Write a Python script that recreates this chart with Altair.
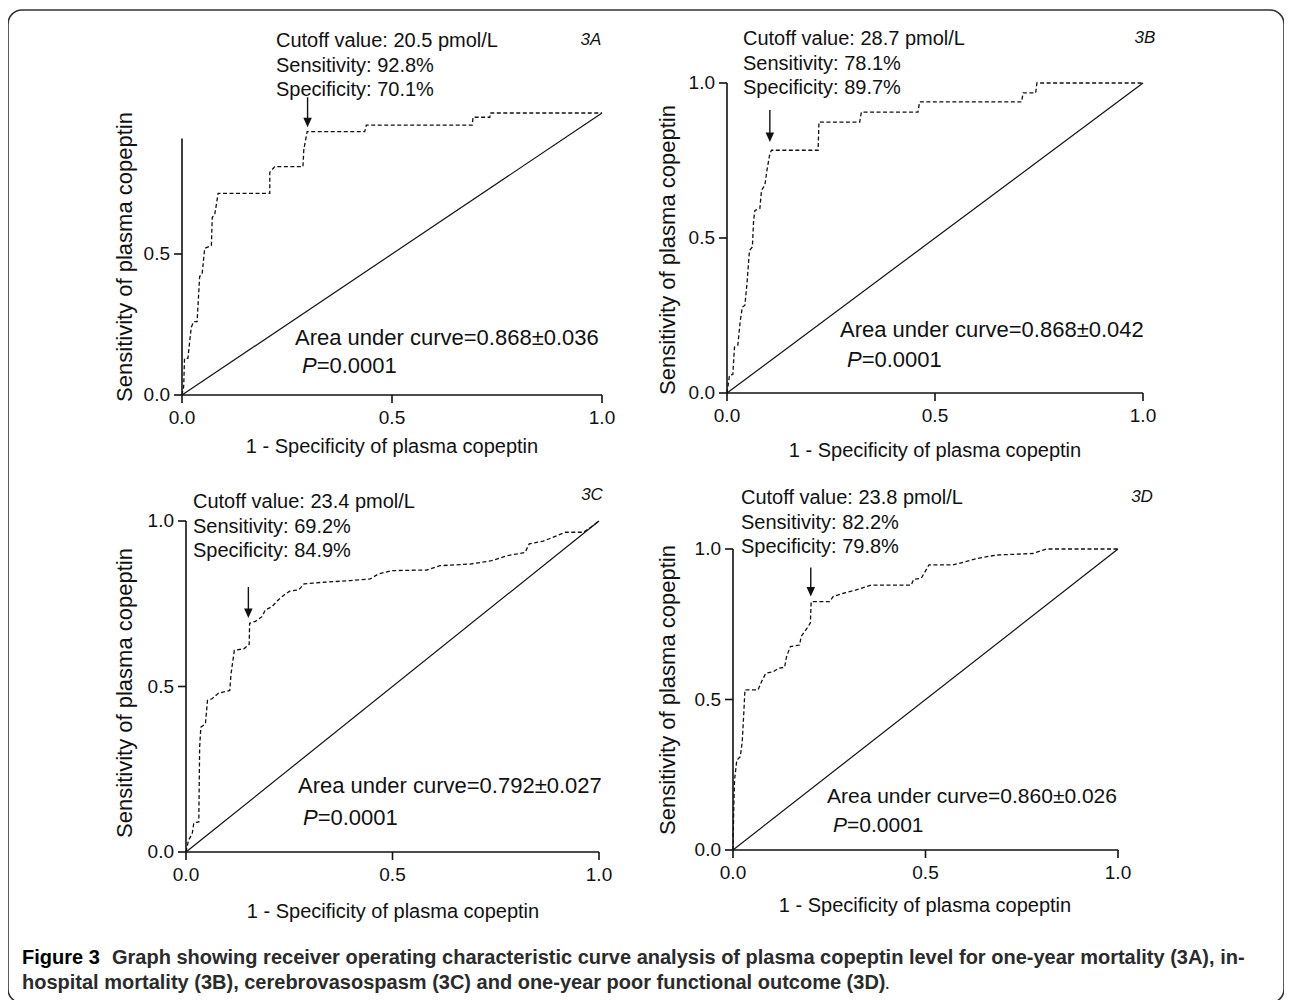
import altair as alt
import pandas as pd

# ---------------- data ----------------
panel_keys = ["A", "B", "C", "D"]
panel_tags = ["3A", "3B", "3C", "3D"]

fpr_a = [0, 0.004, 0.006, 0.014, 0.022, 0.028, 0.036, 0.042, 0.048, 0.054, 0.070, 0.072, 0.078, 0.086,
         0.209, 0.209, 0.221, 0.288, 0.290, 0.298, 0.435, 0.439, 0.691, 0.693, 0.733, 0.734, 1.0]
tpr_a = [0, 0.03, 0.13, 0.13, 0.24, 0.26, 0.26, 0.42, 0.43, 0.52, 0.53, 0.63, 0.64, 0.715,
         0.715, 0.79, 0.81, 0.81, 0.87, 0.934, 0.934, 0.957, 0.957, 0.985, 0.985, 1.0, 1.0]

fpr_b = [0, 0.006, 0.014, 0.018, 0.026, 0.032, 0.037, 0.043, 0.048, 0.054, 0.061, 0.064, 0.067, 0.079,
         0.083, 0.091, 0.096, 0.103, 0.107, 0.219, 0.221, 0.319, 0.323, 0.459, 0.463, 0.708, 0.712,
         0.742, 0.745, 1.0]
tpr_b = [0, 0.057, 0.06, 0.148, 0.154, 0.234, 0.277, 0.283, 0.353, 0.46, 0.471, 0.557, 0.589, 0.595,
         0.654, 0.67, 0.718, 0.772, 0.783, 0.783, 0.874, 0.874, 0.906, 0.906, 0.939, 0.939, 0.968,
         0.968, 1.0, 1.0]

fpr_c = [0, 0.006, 0.015, 0.019, 0.031, 0.033, 0.036, 0.047, 0.052, 0.063, 0.079, 0.106, 0.109, 0.117,
         0.14, 0.153, 0.154, 0.168, 0.184, 0.192, 0.208, 0.222, 0.236, 0.251, 0.273, 0.286, 0.333,
         0.398, 0.446, 0.466, 0.498, 0.583, 0.615, 0.688, 0.74, 0.777, 0.821, 0.831, 0.865, 0.918,
         0.962, 0.98, 1.0]
tpr_c = [0, 0.035, 0.055, 0.088, 0.091, 0.317, 0.377, 0.387, 0.458, 0.463, 0.48, 0.488, 0.538, 0.609,
         0.614, 0.627, 0.691, 0.697, 0.711, 0.731, 0.741, 0.76, 0.775, 0.788, 0.792, 0.81, 0.815,
         0.82, 0.825, 0.84, 0.85, 0.852, 0.865, 0.87, 0.88, 0.895, 0.905, 0.931, 0.939, 0.966,
         0.966, 0.981, 1.0]

fpr_d = [0, 0.002, 0.004, 0.010, 0.019, 0.024, 0.028, 0.031, 0.065, 0.074, 0.085, 0.104, 0.119, 0.134,
         0.139, 0.149, 0.173, 0.177, 0.195, 0.201, 0.203, 0.251, 0.26, 0.287, 0.32, 0.359, 0.463,
         0.469, 0.489, 0.509, 0.571, 0.604, 0.636, 0.684, 0.779, 0.814, 1.0]
tpr_d = [0, 0.144, 0.233, 0.299, 0.31, 0.36, 0.454, 0.532, 0.532, 0.559, 0.587, 0.592, 0.604, 0.607,
         0.642, 0.676, 0.681, 0.709, 0.742, 0.755, 0.825, 0.825, 0.842, 0.853, 0.864, 0.88, 0.88,
         0.899, 0.903, 0.947, 0.947, 0.958, 0.969, 0.98, 0.985, 1.0, 1.0]

fprs = [fpr_a, fpr_b, fpr_c, fpr_d]
tprs = [tpr_a, tpr_b, tpr_c, tpr_d]

reference_line = [0.0, 1.0]

cutoffs = ["20.5", "28.7", "23.4", "23.8"]
sensitivities = [92.8, 78.1, 69.2, 82.2]
specificities = [70.1, 89.7, 84.9, 79.8]
auc_values = ["0.868", "0.868", "0.792", "0.860"]
auc_errors = ["0.036", "0.042", "0.027", "0.026"]
p_values = ["0.0001", "0.0001", "0.0001", "0.0001"]

x_ticks = [0.0, 0.5, 1.0]
x_tick_labels = ["0.0", "0.5", "1.0"]
y_ticks = [[0.0, 0.5], [0.0, 0.5, 1.0], [0.0, 0.5, 1.0], [0.0, 0.5, 1.0]]
y_tick_labels = [["0.0", "0.5"], ["0.0", "0.5", "1.0"], ["0.0", "0.5", "1.0"], ["0.0", "0.5", "1.0"]]
y_axis_top = [0.91, 1.0, 1.0, 1.0]

x_title = "1 - Specificity of plasma copeptin"
y_title = "Sensitivity of plasma copeptin"

caption_bold = "Figure 3"
caption_line1 = ("Graph showing receiver operating characteristic curve analysis of plasma copeptin "
                 "level for one-year mortality (3A), in-")
caption_line2 = ("hospital mortality (3B), cerebrovasospasm (3C) and one-year poor functional "
                 "outcome (3D)")

# ---------------- layout (page pixels) ----------------
OX, OY = 8, 10          # page position of the framed view
W, H = 1276, 993
FONT = "Liberation Sans"
INK = "#111111"
TICK = 8

layout = {
    "A": dict(x0=182, x1=602, y0=395, y1=113, ann=(276, 47), tag=(591, 40),
              auc=(295, 345), p=(302, 373), auc_size=22, xt=(392, 447), yt=(125, 257),
              gap=6, alen=30),
    "B": dict(x0=727, x1=1143, y0=393, y1=83, ann=(743, 45), tag=(1145, 38),
              auc=(840, 337), p=(847, 367), auc_size=22, xt=(935, 451), yt=(668, 250),
              gap=9, alen=32),
    "C": dict(x0=186, x1=599, y0=852, y1=521, ann=(193, 508), tag=(592, 495),
              auc=(298, 793), p=(303, 825), auc_size=22, xt=(393, 912), yt=(125, 693),
              gap=5, alen=31),
    "D": dict(x0=733, x1=1118, y0=850, y1=549, ann=(741, 504), tag=(1142, 497),
              auc=(827, 803), p=(833, 832), auc_size=21, xt=(925, 906), yt=(668, 690),
              gap=6, alen=29),
}


def px(x):
    return x - OX


def py(y):
    return y - OY


def text_layer(txt, x, y, size, **kw):
    df = pd.DataFrame({"t": [txt]})
    params = dict(font=FONT, fontSize=size, color=INK, align="left", baseline="alphabetic")
    params.update(kw)
    return alt.Chart(df).mark_text(**params).encode(
        x=alt.value(px(x)), y=alt.value(py(y)), text="t:N")


def build_panel(i):
    key = panel_keys[i]
    L = layout[key]
    xs = alt.Scale(domain=[0, 1], range=[px(L["x0"]), px(L["x1"])], nice=False, zero=False)
    ys = alt.Scale(domain=[0, 1], range=[py(L["y0"]), py(L["y1"])], nice=False, zero=False)

    def X(f):
        return alt.X(f, type="quantitative", scale=xs, axis=None)

    def Y(f):
        return alt.Y(f, type="quantitative", scale=ys, axis=None)

    curve_df = pd.DataFrame({"fpr": fprs[i], "tpr": tprs[i], "i": list(range(len(fprs[i])))})
    curve = alt.Chart(curve_df).mark_line(
        color=INK, strokeWidth=1.3, strokeDash=[4, 2.5]
    ).encode(x=X("fpr"), y=Y("tpr"), order="i:Q")

    diag_df = pd.DataFrame({"fpr": reference_line, "tpr": reference_line})
    diag = alt.Chart(diag_df).mark_line(color=INK, strokeWidth=1.2).encode(x=X("fpr"), y=Y("tpr"))

    ax_df = pd.DataFrame({"lo": [0.0], "hx": [1.0], "hy": [y_axis_top[i]]})
    xline = alt.Chart(ax_df).mark_rule(color=INK, strokeWidth=1.6).encode(
        x=X("lo"), x2=alt.X2("hx"), y=Y("lo"))
    yline = alt.Chart(ax_df).mark_rule(color=INK, strokeWidth=1.6).encode(
        x=X("lo"), y=Y("lo"), y2=alt.Y2("hy"))

    xt_df = pd.DataFrame({"v": x_ticks, "lab": x_tick_labels, "z": [0.0] * len(x_ticks)})
    xtk = alt.Chart(xt_df).mark_rule(color=INK, strokeWidth=1.6, y2Offset=TICK).encode(
        x=X("v"), y=Y("z"), y2=alt.Y2("z"))
    xlab = alt.Chart(xt_df).mark_text(
        font=FONT, fontSize=19, color=INK, align="center", baseline="middle", dy=23
    ).encode(x=X("v"), y=Y("z"), text="lab:N")

    yt_df = pd.DataFrame({"v": y_ticks[i], "lab": y_tick_labels[i], "z": [0.0] * len(y_ticks[i])})
    ytk = alt.Chart(yt_df).mark_rule(color=INK, strokeWidth=1.6, x2Offset=-TICK).encode(
        y=Y("v"), x=X("z"), x2=alt.X2("z"))
    ylab = alt.Chart(yt_df).mark_text(
        font=FONT, fontSize=19, color=INK, align="right", baseline="middle", dx=-12
    ).encode(x=X("z"), y=Y("v"), text="lab:N")

    # arrow pointing to the cut-off point
    arr_df = pd.DataFrame({"fx": [1 - specificities[i] / 100.0], "sy": [sensitivities[i] / 100.0]})
    shaft = alt.Chart(arr_df).mark_rule(
        color=INK, strokeWidth=1.4, yOffset=-(L["gap"] + L["alen"]), y2Offset=-(L["gap"] + 4)
    ).encode(x=X("fx"), y=Y("sy"), y2=alt.Y2("sy"))
    head = alt.Chart(arr_df).mark_point(
        shape="M-0.45,-1L0.45,-1L0,0Z", filled=True, size=360, color=INK, opacity=1,
        yOffset=-L["gap"]
    ).encode(x=X("fx"), y=Y("sy"))

    ann_txt = "\n".join([
        f"Cutoff value: {cutoffs[i]} pmol/L",
        f"Sensitivity: {sensitivities[i]}%",
        f"Specificity: {specificities[i]}%",
    ])
    ann = text_layer(ann_txt, L["ann"][0], L["ann"][1], 20, lineBreak="\n", lineHeight=24.5)

    tag = text_layer(panel_tags[i], L["tag"][0], L["tag"][1], 17, fontStyle="italic",
                     align="center", baseline="middle")

    auc = text_layer(f"Area under curve={auc_values[i]}\u00b1{auc_errors[i]}",
                     L["auc"][0], L["auc"][1], L["auc_size"])
    p_it = text_layer("P", L["p"][0], L["p"][1], L["auc_size"], fontStyle="italic")
    p_rest = text_layer(f"={p_values[i]}", L["p"][0] + 0.667 * L["auc_size"], L["p"][1],
                        L["auc_size"])

    xtitle = text_layer(x_title, L["xt"][0], L["xt"][1], 20, align="center", baseline="middle")
    ytitle = text_layer(y_title, L["yt"][0], L["yt"][1], 22, align="center", baseline="middle",
                        angle=270)

    return alt.layer(diag, curve, xline, yline, xtk, xlab, ytk, ylab, shaft, head,
                     ann, tag, auc, p_it, p_rest, xtitle, ytitle)


panels = [build_panel(i) for i in range(4)]

CAP = 20
cap1a = text_layer(caption_bold, 22, 964, CAP, fontWeight="bold", color="#000000")
cap1b = text_layer(caption_line1, 22 + 4.5 * CAP, 964, CAP, fontWeight="bold", color="#2b2b2b")
cap2 = text_layer(caption_line2, 22, 989, CAP, fontWeight="bold", color="#2b2b2b")
cap2_end = text_layer(caption_line2, 22, 989, CAP, fontWeight="bold", opacity=0)
cap_dot = text_layer(".", 22, 989, CAP, color="#2b2b2b", dx=0)

chart_layers = panels + [cap1a, cap1b, cap2]

# trailing non-bold period of the caption, placed right after line 2 via an offset estimate
cap_period = alt.Chart(pd.DataFrame({"t": ["."]})).mark_text(
    font=FONT, fontSize=CAP, color="#2b2b2b", align="left", baseline="alphabetic"
).encode(x=alt.value(px(22) + 0.49 * CAP * len(caption_line2)), y=alt.value(py(989)), text="t:N")
chart_layers.append(cap_period)

chart = alt.layer(*chart_layers).resolve_scale(
    x="independent", y="independent"
).properties(
    width=W, height=H,
    autosize=alt.AutoSizeParams(type="none"),
    padding={"left": 0, "top": 2, "right": 0, "bottom": 0},
    background="white",
).configure_view(
    stroke="#333333", strokeWidth=1.6, cornerRadius=14, fill="white"
)

chart.save("out.html", embed_options={"renderer": "svg", "actions": False})
